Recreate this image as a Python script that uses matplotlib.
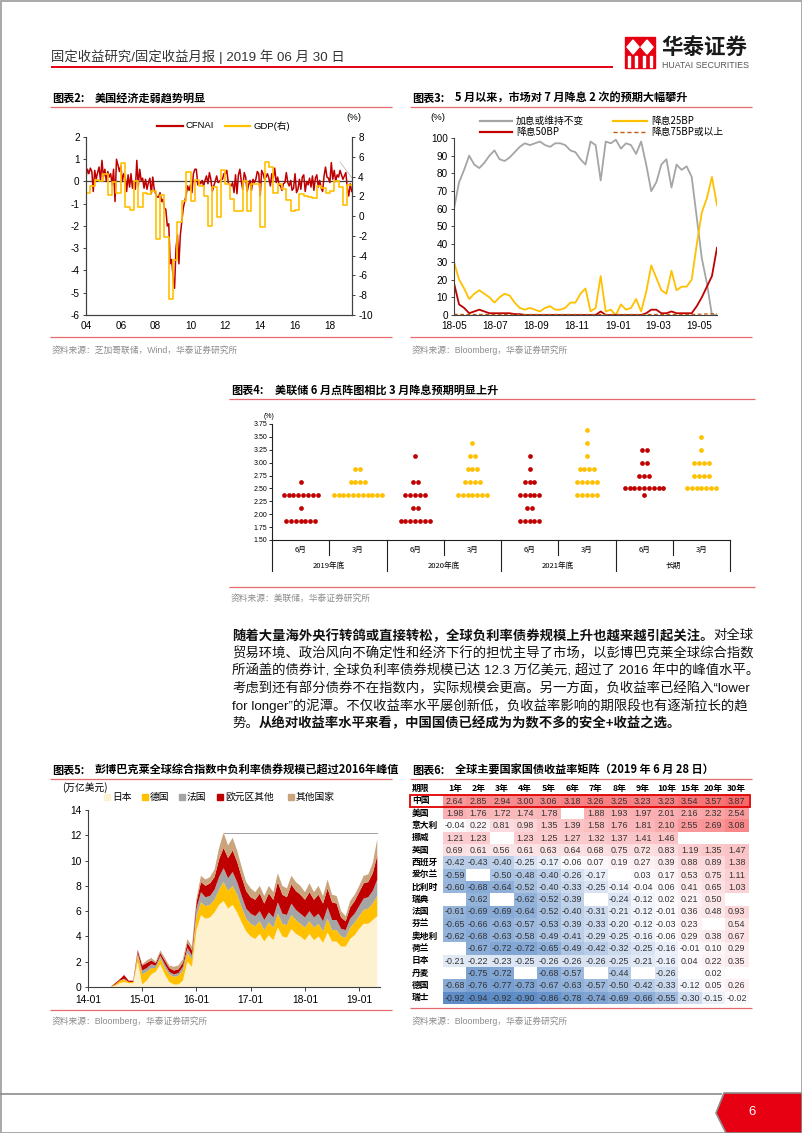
import numpy as np
import matplotlib
matplotlib.use("Agg")
import matplotlib.pyplot as plt
from matplotlib.colors import LinearSegmentedColormap, TwoSlopeNorm
from matplotlib.patches import Rectangle, Polygon

plt.rcParams['font.family'] = ['Liberation Sans', 'Noto Sans CJK SC', 'DejaVu Sans']
plt.rcParams['axes.unicode_minus'] = False

# ---- 图表2: CFNAI (月度) 与 GDP (季度, 右轴) ----
cfnai = [
    0.20, 0.55, 0.35, 0.60, 0.45, -0.45, 0.50, 0.10, 0.40, 0.65, 0.05, 0.95,   # 2004
    0.20, 0.55, 0.00, 0.45, 0.20, 0.35, -0.15, 0.55, -0.90, 1.00, 0.75, 0.45,  # 2005
    0.70, 0.00, 0.35, 0.20, -0.45, 0.30, -0.25, 0.35, -0.30, 0.00, -0.35, 0.95, # 2006
    -0.20, 0.55, 0.05, 0.15, -0.30, 0.10, -0.35, -0.05, 0.15, -0.55, 0.20, -0.35, # 2007
    -0.55, -0.70, -0.70, -0.50, -0.90, -0.80, -1.20, -1.25, -2.00, -1.90, -3.70, -3.50, # 2008
    -4.30, -4.80, -3.00, -2.40, -3.70, -2.40, -1.80, -1.20, -0.90, -0.60, -0.20, -0.40, # 2009
    -0.15, -0.50, 0.35, 0.55, 0.55, -0.15, 0.00, -0.10, 0.05, -0.20, 0.05, 0.25, # 2010
    -0.10, 0.40, 0.10, -0.45, -0.20, 0.00, 0.25, -0.05, 0.00, 0.10, 0.10, 0.35,  # 2011
    0.35, 0.50, -0.05, -0.15, -0.20, -0.05, -0.50, 0.30, -0.55, 0.30, 0.55, 0.00, # 2012
    -0.35, 0.40, 0.20, -0.45, -0.15, 0.05, -0.40, 0.10, -0.05, 0.10, 0.45, 0.35, # 2013
    -0.65, 0.50, 0.35, 0.10, 0.20, 0.35, 0.15, -0.20, 0.35, 0.15, 0.60, -0.05,   # 2014
    0.20, -0.15, -0.20, -0.40, -0.10, -0.05, 0.40, -0.05, -0.20, 0.05, -0.40, -0.30, # 2015
    0.35, -0.50, -0.35, 0.10, -0.35, 0.20, 0.30, -0.45, 0.00, -0.15, 0.15, -0.25, # 2016
    0.25, -0.40, 0.15, 0.30, -0.25, 0.05, -0.30, -0.45, 0.25, 0.65, 0.20, 0.15,  # 2017
    -0.05, 0.85, 0.10, 0.50, 0.00, 0.30, 0.20, 0.50, 0.30, 0.10, 0.25, 0.40,    # 2018
    -0.30, -0.65, -0.10, -0.45,                                                   # 2019
]
gdp_q = [
    2.3, 3.0, 3.7, 3.5, 4.3, 2.1, 3.4, 2.3, 5.4, 0.9, 0.6, 3.5,
    0.9, 2.3, 2.2, 2.5, -2.3, 2.1, -2.1, -8.4, -4.4, -0.6, 1.5, 4.5,
    1.5, 3.7, 3.0, 2.0, -1.0, 2.9, -0.1, 4.7, 3.2, 1.7, 0.5, 0.5,
    3.6, 0.5, 3.2, 3.2, -1.1, 5.5, 5.0, 2.3, 3.2, 2.7, 1.6, 0.5,
    0.6, 2.2, 2.0, 1.9, 1.8, 3.0, 2.8, 2.3, 2.5, 3.5, 2.9, 1.1,
    3.1,
]
year_ticks = [2004, 2006, 2008, 2010, 2012, 2014, 2016, 2018]
year_labels = ['04', '06', '08', '10', '12', '14', '16', '18']

# ---- 图表3: 7月议息会议降息概率 (周度) ----
hold_pct = [60, 75, 82, 90, 85, 83, 86, 90, 93, 88, 87, 89, 92, 95, 97, 96, 97, 98,
            96, 95, 97, 97, 96, 93, 92, 88, 85, 98, 96, 76, 98, 97, 99, 94, 97, 96,
            91, 98, 85, 70, 75, 85, 88, 72, 85, 82, 84, 78, 55, 32, 18, 0, 0]
cut25_pct = [30, 20, 15, 9, 12, 14, 12, 10, 7, 10, 12, 11, 7, 4, 3, 4, 3, 2,
             4, 5, 3, 3, 4, 7, 7, 12, 15, 2, 4, 22, 2, 3, 0, 6, 3, 4,
             9, 2, 13, 28, 21, 14, 12, 25, 14, 16, 16, 20, 40, 58, 66, 78, 62]
cut50_pct = [18, 6, 4, 1, 2, 3, 2, 1, 1, 1, 1, 1, 0.5, 0.5, 0, 0, 0, 0,
             0, 0, 0, 0, 0, 0, 0, 0, 0, 0, 0, 2, 0, 0, 0, 0, 0, 0,
             0, 0, 1, 3, 3, 1, 1, 2, 1, 1, 1, 1, 5, 10, 16, 22, 38]
cut75_pct = [0.4, 0.3, 0.3, 0.3, 0.3, 0.3, 0.3, 0.3, 0.3, 0.3, 0.3, 0.3, 0.3, 0.3, 0.3, 0.3, 0.3, 0.3,
             0.3, 0.3, 0.3, 0.3, 0.3, 0.3, 0.3, 0.3, 0.3, 0.3, 0.3, 0.3, 0.3, 0.3, 0.3, 0.3, 0.3, 0.3,
             0.3, 0.3, 0.3, 0.3, 0.3, 0.3, 0.3, 0.3, 0.3, 0.3, 0.3, 0.3, 0.4, 0.5, 0.6, 0.7, 0.8]
month_labels3 = ['18-05', '18-07', '18-09', '18-11', '19-01', '19-03', '19-05']

# ---- 图表4: 点阵图 ----
dot_cats = ['6月', '3月', '6月', '3月', '6月', '3月', '6月', '3月']
dot_groups = ['2019年底', '2020年底', '2021年底', '长期']
dots = [
    [(2.625, 1), (2.375, 8), (2.125, 1), (1.875, 7)],
    [(2.875, 2), (2.625, 4), (2.375, 11)],
    [(3.125, 1), (2.625, 2), (2.375, 5), (2.125, 2), (1.875, 7)],
    [(3.375, 1), (3.125, 2), (2.875, 3), (2.625, 4), (2.375, 7)],
    [(3.125, 1), (2.875, 1), (2.625, 3), (2.375, 5), (2.125, 2), (1.875, 5)],
    [(3.625, 1), (3.375, 1), (3.125, 1), (2.875, 4), (2.625, 5), (2.375, 5)],
    [(3.25, 2), (3.00, 2), (2.75, 3), (2.50, 9), (2.375, 1)],
    [(3.50, 1), (3.25, 1), (3.00, 4), (2.75, 4), (2.50, 7)],
]

# ---- 图表5: 负利率债券规模 (万亿美元, 月度 2014-01 ~ 2019-05) ----
neg_japan = [0, 0, 0, 0, 0, 0, 0.1, 0.3, 0.4, 0.3, 0.3, 2.0, 0.2, 0.5, 1.0, 1.2, 1.8, 1.0,
             0.4, 0.2, 0.2, 0.5, 2.0, 1.6, 4.5, 5.7, 5.4, 5.5, 5.9, 6.5, 6.8, 6.2, 6.5, 5.9,
             5.1, 4.4, 4.0, 3.8, 4.2, 3.6, 4.1, 3.7, 4.7, 4.0, 3.9, 4.6, 4.2, 4.0, 3.7, 4.2,
             3.7, 4.0, 3.5, 4.3, 3.6, 3.6, 3.2, 3.2, 3.8, 4.1, 4.6, 5.0, 5.0, 5.3, 5.6]
neg_germany = [0, 0, 0, 0, 0, 0, 0.1, 0.2, 0.2, 0.1, 0.1, 0.5, 0.8, 0.7, 0.5, 0.3, 0.5, 0.5,
               0.6, 0.6, 0.7, 0.8, 0.7, 0.6, 1.1, 1.0, 1.0, 1.0, 1.0, 1.2, 1.5, 1.4, 1.5, 1.4,
               1.2, 1.0, 1.0, 1.0, 1.0, 0.9, 1.0, 1.0, 1.1, 1.0, 1.0, 1.1, 1.1, 1.0, 1.0, 1.0,
               1.0, 1.0, 0.9, 1.1, 0.9, 0.9, 0.8, 0.7, 0.9, 1.0, 1.0, 1.1, 1.2, 1.3, 1.6]
neg_france = [0, 0, 0, 0, 0, 0, 0, 0, 0.05, 0, 0, 0.2, 0.3, 0.3, 0.3, 0.2, 0.2, 0.3,
              0.2, 0.2, 0.2, 0.3, 0.4, 0.3, 0.6, 0.8, 0.7, 0.7, 0.8, 1.0, 1.1, 1.0, 1.1, 1.0,
              0.9, 0.8, 0.8, 0.8, 0.8, 0.8, 0.8, 0.8, 0.9, 0.8, 0.8, 0.9, 0.8, 0.8, 0.8, 0.8,
              0.8, 0.8, 0.8, 0.9, 0.8, 0.8, 0.6, 0.6, 0.7, 0.7, 0.8, 0.9, 0.9, 1.0, 1.3]
neg_euro_other = [0, 0, 0, 0, 0, 0, 0.1, 0.1, 0.3, 0.1, 0.1, 0.2, 0.4, 0.4, 0.3, 0.2, 0.2, 0.3,
                  0.3, 0.3, 0.3, 0.3, 0.4, 0.4, 0.5, 0.8, 0.9, 1.0, 1.0, 1.4, 1.6, 1.6, 1.7, 1.6,
                  1.5, 1.4, 1.3, 1.3, 1.4, 1.3, 1.5, 1.4, 1.6, 1.5, 1.4, 1.5, 1.5, 1.5, 1.4, 1.5,
                  1.4, 1.5, 1.4, 1.5, 1.4, 1.3, 0.9, 0.7, 0.9, 1.0, 1.1, 1.2, 1.2, 1.4, 1.9]
neg_others = [0, 0, 0, 0, 0, 0, 0, 0, 0.05, 0, 0, 0.1, 0.1, 0.2, 0.2, 0.1, 0.2, 0.2,
              0.2, 0.3, 0.3, 0.3, 0.3, 0.3, 0.3, 0.5, 0.5, 0.5, 0.6, 0.9, 1.2, 1.0, 1.0, 0.9,
              0.8, 0.7, 0.7, 0.6, 0.6, 0.6, 0.6, 0.6, 0.7, 0.7, 0.7, 0.7, 0.7, 0.7, 0.6, 0.7,
              0.6, 0.7, 0.6, 0.7, 0.6, 0.6, 0.5, 0.4, 0.5, 0.5, 0.5, 0.6, 0.6, 0.8, 1.3]
neg_names = ['日本', '德国', '法国', '欧元区其他', '其他国家']
peak_2016 = 12.2
month_labels5 = ['14-01', '15-01', '16-01', '17-01', '18-01', '19-01']

# ---- 图表6: 国债收益率矩阵 ----
tenors = ['1年', '2年', '3年', '4年', '5年', '6年', '7年', '8年', '9年', '10年', '15年', '20年', '30年']
countries = ['中国', '美国', '意大利', '挪威', '英国', '西班牙', '爱尔兰', '比利时', '瑞典',
             '法国', '芬兰', '奥地利', '荷兰', '日本', '丹麦', '德国', '瑞士']
N = None
yields = [
    [2.64, 2.85, 2.94, 3.00, 3.06, 3.18, 3.26, 3.25, 3.23, 3.23, 3.54, 3.57, 3.87],
    [1.98, 1.76, 1.72, 1.74, 1.78, N, 1.88, 1.93, 1.97, 2.01, 2.16, 2.32, 2.54],
    [-0.04, 0.22, 0.81, 0.98, 1.35, 1.39, 1.58, 1.76, 1.81, 2.10, 2.55, 2.69, 3.08],
    [1.21, 1.23, N, 1.23, 1.25, 1.27, 1.32, 1.37, 1.41, 1.46, N, N, N],
    [0.69, 0.61, 0.56, 0.61, 0.63, 0.64, 0.68, 0.75, 0.72, 0.83, 1.19, 1.35, 1.47],
    [-0.42, -0.43, -0.40, -0.25, -0.17, -0.06, 0.07, 0.19, 0.27, 0.39, 0.88, 0.89, 1.38],
    [-0.59, N, -0.50, -0.48, -0.40, -0.26, -0.17, N, 0.03, 0.17, 0.53, 0.75, 1.11],
    [-0.60, -0.68, -0.64, -0.52, -0.40, -0.33, -0.25, -0.14, -0.04, 0.06, 0.41, 0.65, 1.03],
    [N, -0.62, N, -0.62, -0.52, -0.39, N, -0.24, -0.12, 0.02, 0.21, 0.50, N],
    [-0.61, -0.69, -0.69, -0.64, -0.52, -0.40, -0.31, -0.21, -0.12, -0.01, 0.36, 0.48, 0.93],
    [-0.65, -0.66, -0.63, -0.57, -0.53, -0.39, -0.33, -0.20, -0.12, -0.03, 0.23, N, 0.54],
    [-0.62, -0.68, -0.63, -0.58, -0.49, -0.41, -0.29, -0.25, -0.16, -0.06, 0.29, 0.38, 0.67],
    [N, -0.67, -0.72, -0.72, -0.65, -0.49, -0.42, -0.32, -0.25, -0.16, -0.01, 0.10, 0.29],
    [-0.21, -0.22, -0.23, -0.25, -0.26, -0.26, -0.26, -0.25, -0.21, -0.16, 0.04, 0.22, 0.35],
    [N, -0.75, -0.72, N, -0.68, -0.57, N, -0.44, N, -0.26, N, 0.02, N],
    [-0.68, -0.76, -0.77, -0.73, -0.67, -0.63, -0.57, -0.50, -0.42, -0.33, -0.12, 0.05, 0.26],
    [-0.92, -0.94, -0.92, -0.90, -0.86, -0.78, -0.74, -0.69, -0.66, -0.55, -0.30, -0.15, -0.02],
]

# ---- 颜色 ----
RED = '#C00000'
GOLD = '#FFC000'
GREY = '#A5A5A5'
LINE_RED = '#E8696B'
SRC = '#8C8C8C'
CJK = ['Noto Sans CJK SC', 'DejaVu Sans']

W, H = 802, 1133
fig = plt.figure(figsize=(W / 100, H / 100), dpi=100)
pg = fig.add_axes([0, 0, 1, 1], zorder=0)
pg.set_xlim(0, W)
pg.set_ylim(H, 0)
pg.axis('off')


def rect(x0, y0, x1, y1):
    return [x0 / W, 1 - y1 / H, (x1 - x0) / W, (y1 - y0) / H]


def hline(x0, x1, y, color=LINE_RED, lw=0.9):
    pg.plot([x0, x1], [y, y], color=color, lw=lw, solid_capstyle='butt')


def ptext(x, y, s, size=7, **kw):
    kw.setdefault('va', 'center')
    kw.setdefault('ha', 'left')
    return pg.text(x, y, s, fontsize=size, **kw)


def title(x, y, num, s, x_text, x_end):
    ptext(x, y, num, 8, family=CJK, fontweight='bold')
    ptext(x_text, y, s, 8, family=CJK, fontweight='bold')
    hline(x - 2, x_end, y + 9)


def source(x, y, s, x_end, y_line):
    hline(x - 2, x_end, y_line)
    ptext(x, y, s, 6.3, color=SRC)


def new_axes(x0, y0, x1, y1):
    ax = fig.add_axes(rect(x0, y0, x1, y1), zorder=2)
    ax.set_facecolor('none')
    return ax


# ---- 页眉 / 页框 ----
pg.add_patch(Rectangle((0.5, 0.5), W - 1, H - 1, fill=False, ec='#9A9A9A', lw=1.2))
ptext(51, 57, '固定收益研究/固定收益月报 | 2019 年 06 月 30 日', 9.6, color='#333333')
hline(51, 613, 67, color='#E60012', lw=1.4)
pg.add_patch(Rectangle((625, 37), 30, 31, color='#E60012'))
for cx in (633, 647):
    pg.add_patch(Polygon([(cx, 40), (cx + 6, 47), (cx, 54), (cx - 6, 47)], color='white'))
for bx in (629, 636, 644, 651):
    pg.add_patch(Rectangle((bx - 1.2, 56), 2.4, 11, color='white'))
ptext(661, 47, '华泰证券', 15.5, family=CJK, fontweight='bold', color='#1A1A1A')
ptext(662, 66, 'HUATAI SECURITIES', 6.4, color='#555555')

# ---- 图表2 ----
title(52, 98, '图表2:', '美国经济走弱趋势明显', 95, 392)
ax2 = new_axes(86, 137, 352, 315)
x_cf = 2004 + np.arange(len(cfnai)) / 12
ax2.plot(x_cf, cfnai, color=RED, lw=1.1, zorder=3)
ax2.axhline(0, color='#404040', lw=0.9, zorder=2)
ax2.set_xlim(2004, 2019.27)
ax2.set_ylim(-6, 2)
ax2.set_yticks(range(-6, 3))
ax2.set_xticks(year_ticks)
ax2.set_xticklabels(year_labels)
ax2r = ax2.twinx()
ax2r.set_facecolor('none')
x_q = 2004 + np.arange(len(gdp_q)) / 4
ax2r.step(np.append(x_q, 2019.27), np.append(gdp_q, gdp_q[-1]), where='post', color=GOLD, lw=1.2)
ax2r.set_ylim(-10, 8)
ax2r.set_yticks(range(-10, 9, 2))
for a in (ax2, ax2r):
    a.spines['top'].set_visible(False)
    for s in ('left', 'right', 'bottom'):
        a.spines[s].set_color('#404040')
        a.spines[s].set_linewidth(0.8)
    a.tick_params(labelsize=7.2, length=2.5, width=0.7, color='#404040', pad=2)
ax2.tick_params(axis='x', length=0, pad=4)
pg.plot([157, 183], [126, 126], color=RED, lw=1.6)
ptext(186, 126, 'CFNAI', 6.8)
pg.plot([225, 250], [126, 126], color=GOLD, lw=1.6)
ptext(253, 126, 'GDP(右)', 6.8)
ptext(346, 117, '(%)', 6.8)
pg.plot([340, 352], [162, 178], color='#B0B0B0', lw=0.5)
source(52, 350, '资料来源：芝加哥联储，Wind，华泰证券研究所', 392, 337)

# ---- 图表3 ----
title(412, 98, '图表3:', '5 月以来，市场对 7 月降息 2 次的预期大幅攀升', 455, 752)
ax3 = new_axes(454, 138, 717, 315)
x3 = np.linspace(0, 12.85, len(hold_pct))
ax3.plot(x3, hold_pct, color=GREY, lw=1.3)
ax3.plot(x3, cut25_pct, color=GOLD, lw=1.3)
ax3.plot(x3, cut50_pct, color=RED, lw=1.3)
ax3.plot(x3, cut75_pct, color='#C55A11', lw=0.9, ls=(0, (3, 2)))
ax3.set_xlim(0, 12.85)
ax3.set_ylim(0, 100)
ax3.set_yticks(range(0, 101, 10))
ax3.set_xticks(range(0, 13, 2))
ax3.set_xticklabels(month_labels3)
for s in ('top', 'right'):
    ax3.spines[s].set_visible(False)
for s in ('left', 'bottom'):
    ax3.spines[s].set_color('#404040')
    ax3.spines[s].set_linewidth(0.8)
ax3.tick_params(labelsize=7.2, length=2.5, width=0.7, color='#404040', pad=2)
ax3.tick_params(axis='x', length=0, pad=4)
ptext(430, 118, '(%)', 6.8)
pg.plot([480, 512], [121, 121], color=GREY, lw=1.6)
ptext(516, 121, '加息或维持不变', 7, family=CJK)
pg.plot([613, 647], [121, 121], color=GOLD, lw=1.6)
ptext(651, 121, '降息25BP', 7, family=CJK)
pg.plot([480, 512], [132, 132], color=RED, lw=1.6)
ptext(516, 132, '降息50BP', 7, family=CJK)
pg.plot([613, 647], [132, 132], color='#C55A11', lw=1.0, ls=(0, (3, 2)))
ptext(651, 132, '降息75BP或以上', 7, family=CJK)
source(412, 350, '资料来源：Bloomberg，华泰证券研究所', 752, 337)

# ---- 图表4 ----
title(231, 390, '图表4:', '美联储 6 月点阵图相比 3 月降息预期明显上升', 275, 755)
ax4 = new_axes(272, 424, 730, 540)
dot_step = 0.0846
for i, cat in enumerate(dots):
    col = RED if i % 2 == 0 else GOLD
    for rate, n in cat:
        xs = i + 0.5 + (np.arange(n) - (n - 1) / 2) * dot_step
        ax4.plot(xs, [rate] * n, 'o', color=col, ms=3.4, mew=0, clip_on=False)
ax4.set_xlim(0, 8)
ax4.set_ylim(1.5, 3.75)
ax4.set_yticks(np.arange(1.5, 3.76, 0.25))
ax4.set_yticklabels(['%.2f' % v for v in np.arange(1.5, 3.76, 0.25)])
ax4.set_xticks([])
for s in ('top', 'right'):
    ax4.spines[s].set_visible(False)
for s in ('left', 'bottom'):
    ax4.spines[s].set_color('#202020')
    ax4.spines[s].set_linewidth(0.8)
ax4.tick_params(axis='y', labelsize=5, length=2, width=0.6, pad=1.5)
ptext(264, 417, '(%)', 5)
cw = (730 - 272) / 8
for k in range(9):
    xk = 272 + k * cw
    pg.plot([xk, xk], [540, 571 if k % 2 == 0 else 555], color='#202020', lw=0.8)
for k, lab in enumerate(dot_cats):
    ptext(272 + (k + 0.5) * cw, 550, lab, 5.5, ha='center', family=CJK)
for k, lab in enumerate(dot_groups):
    ptext(272 + (2 * k + 1) * cw, 566, lab, 5.5, ha='center', family=CJK)
source(231, 598, '资料来源：美联储，华泰证券研究所', 755, 587)

# ---- 正文 ----
renderer = fig.canvas.get_renderer()
para = [
    [('随着大量海外央行转鸽或直接转松，全球负利率债券规模上升也越来越引起关注。', True), ('对全球', False)],
    [('贸易环境、政治风向不确定性和经济下行的担忧主导了市场，以彭博巴克莱全球综合指数', False)],
    [('所涵盖的债券计, 全球负利率债券规模已达 12.3 万亿美元, 超过了 2016 年中的峰值水平。', False)],
    [('考虑到还有部分债券不在指数内，实际规模会更高。另一方面，负收益率已经陷入“lower', False)],
    [('for longer”的泥潭。不仅收益率水平屡创新低，负收益率影响的期限段也有逐渐拉长的趋', False)],
    [('势。', False), ('从绝对收益率水平来看，中国国债已经成为为数不多的安全+收益之选。', True)],
]
for li, parts in enumerate(para):
    x = 232
    y = 636 + li * 17.5
    for s, bold in parts:
        t = ptext(x, y, s, 9.6, fontweight='bold' if bold else 'normal', color='#111111')
        x += t.get_window_extent(renderer).width

# ---- 图表5 ----
title(52, 770, '图表5:', '彭博巴克莱全球综合指数中负利率债券规模已超过2016年峰值', 95, 392)
ax5 = new_axes(88, 810, 380, 987)
x5 = np.arange(len(neg_japan))
cols5 = ['#FDF1CF', GOLD, GREY, RED, '#C9A47C']
ax5.stackplot(x5, neg_japan, neg_germany, neg_france, neg_euro_other, neg_others,
              colors=cols5, lw=0)
ax5.plot([30, 64], [peak_2016, peak_2016], color='#A0A0A0', lw=0.7)
ax5.set_xlim(0, 64.6)
ax5.set_ylim(0, 14)
ax5.set_yticks(range(0, 15, 2))
ax5.set_xticks(range(0, 61, 12))
ax5.set_xticklabels(month_labels5)
for s in ('top', 'right'):
    ax5.spines[s].set_visible(False)
for s in ('left', 'bottom'):
    ax5.spines[s].set_color('#404040')
    ax5.spines[s].set_linewidth(0.8)
ax5.tick_params(labelsize=7.4, length=2.5, width=0.7, color='#404040', pad=2)
ax5.tick_params(axis='x', length=3, pad=3)
lx = [107, 145, 182, 220, 291]
for xx, c, nm in zip(lx, cols5, neg_names):
    pg.add_patch(Rectangle((xx - 3, 794), 5.5, 5.5, color=c))
    ptext(xx + 5, 797, nm, 7, family=CJK)
ptext(62, 788, '(万亿美元)', 7, family=CJK)
source(52, 1021, '资料来源：Bloomberg，华泰证券研究所', 392, 1010)

# ---- 图表6 ----
title(412, 770, '图表6:', '全球主要国家国债收益率矩阵（2019 年 6 月 28 日）', 455, 752)
cell_w, row_h = 23.5, 12.3
x_t0, y_t0 = 443, 794.85
ax6 = new_axes(x_t0, y_t0, x_t0 + cell_w * len(tenors), y_t0 + row_h * len(countries))
vals = np.array([[np.nan if v is None else v for v in row] for row in yields])
cmap6 = LinearSegmentedColormap.from_list('excel3', ['#5A8AC6', '#FCFCFF', '#F8696B'])
norm6 = TwoSlopeNorm(vmin=np.nanmin(vals), vcenter=np.nanmedian(vals), vmax=np.nanmax(vals))
ax6.pcolormesh(np.ma.masked_invalid(vals), cmap=cmap6, norm=norm6)
ax6.set_xlim(0, len(tenors))
ax6.set_ylim(len(countries), 0)
ax6.axis('off')
lab_x = (412 - x_t0) / cell_w
for i, c in enumerate(countries):
    ax6.text(lab_x, i + 0.5, c, fontsize=6.3, fontweight='bold', va='center', ha='left',
             family=CJK, clip_on=False)
    for j in range(len(tenors)):
        v = vals[i, j]
        if not np.isnan(v):
            ax6.text(j + 0.5, i + 0.52, '%.2f' % v, fontsize=6.4, va='center', ha='center',
                     color='#333333')
hy = (788 - y_t0) / row_h
ax6.text(lab_x, hy, '期限', fontsize=6.3, fontweight='bold', va='center', ha='left',
         family=CJK, clip_on=False)
for j, t in enumerate(tenors):
    ax6.text(j + 0.5, hy, t, fontsize=6.3, fontweight='bold', va='center', ha='center',
             family=CJK, clip_on=False)
ax6.add_patch(Rectangle(((410 - x_t0) / cell_w, 0), (750 - 410) / cell_w, 1, fill=False,
                        ec='#E00000', lw=1.3, clip_on=False))
source(412, 1021, '资料来源：Bloomberg，华泰证券研究所', 752, 1008)

# ---- 页脚 ----
hline(0, 722, 1094, color='#8C8C8C', lw=1.2)
pg.add_patch(Polygon([(724, 1093), (802, 1093), (802, 1133), (726, 1133), (716, 1113)],
                     closed=True, fc='#E60012', ec='#8C8C8C', lw=1.2))
ptext(752, 1112, '6', 9.5, ha='center', color='white')

fig.savefig('out.png', dpi=100)
